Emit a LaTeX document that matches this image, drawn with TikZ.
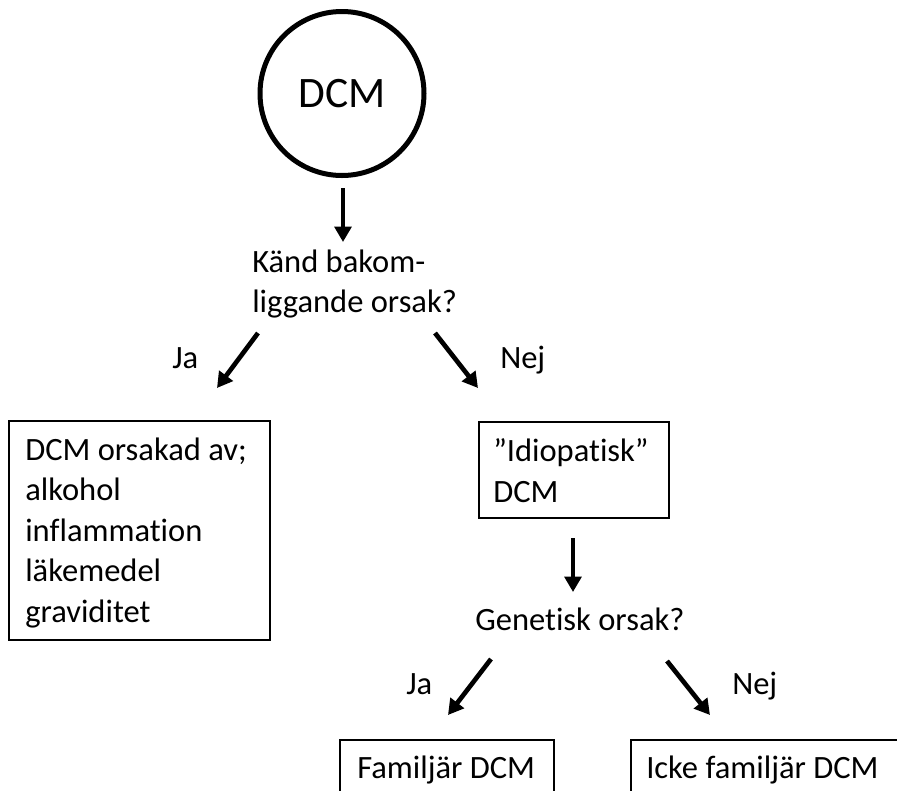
\documentclass[tikz,border=0pt]{standalone}
\usepackage{fontspec}
\setmainfont{Carlito}[Ligatures={NoCommon,NoContextual}]
\usetikzlibrary{arrows.meta}
\tikzset{
  txt/.style={font=\fontsize{24.4}{29}\selectfont, inner sep=0pt, anchor=base west},
  boxnode/.style={draw, line width=1.2pt, inner sep=0pt, anchor=north west},
  arr/.style={line width=3.5pt, -{Triangle[width=12.5pt,length=11.5pt]}},
}
\begin{document}
\begin{tikzpicture}[x=0.75pt,y=-0.75pt]
\useasboundingbox (0,0) rectangle (897,790);
\clip (0,0) rectangle (897,790);
% circle
\node[circle, draw, line width=3.75pt, minimum size=123pt, inner sep=0pt,
      font=\fontsize{32.6}{39}\selectfont] (dcm) at (342,93.5) {DCM};
% question 1
\node[txt] (q1a) at (252,272) {Känd bakom-};
\node[txt] (q1b) at (252,312) {liggande orsak?};
\node[txt] (ja1) at (172,368) {Ja};
\node[txt] (nej1) at (500,368) {Nej};
% left box
\node[boxnode, minimum width=195.75pt, minimum height=164.25pt] (lbox) at (8,420) {};
\node[txt] (l1) at (25,460) {DCM orsakad av;};
\node[txt] (l2) at (25,500.6) {alkohol};
\node[txt] (l3) at (25,541.2) {inflammation};
\node[txt] (l4) at (25,581.8) {läkemedel};
\node[txt] (l5) at (25,622.4) {graviditet};
% idiopatisk box
\node[boxnode, minimum width=142.5pt, minimum height=72pt] (ibox) at (478,421) {};
\node[txt] (i1) at (493,461) {”Idiopatisk”};
\node[txt] (i2) at (493,502) {DCM};
% question 2
\node[txt] (q2) at (475,630) {Genetisk orsak?};
\node[txt] (ja2) at (406,694) {Ja};
\node[txt] (nej2) at (732,694) {Nej};
% bottom boxes
\node[boxnode, minimum width=160.5pt, minimum height=75pt] (fbox) at (339,739) {};
\node[txt] (f1) at (357,778) {Familjär DCM};
\node[boxnode, minimum width=220pt, minimum height=75pt] (kbox) at (630,739) {};
\node[txt] (k1) at (646,778) {Icke familjär DCM};
% arrow coordinates
\coordinate (a1s) at (343,188); \coordinate (a1e) at (343,242);
\coordinate (a2s) at (258,333); \coordinate (a2e) at (217,388);
\coordinate (a3s) at (435,333); \coordinate (a3e) at (478,388);
\coordinate (a4s) at (573,538); \coordinate (a4e) at (573,592);
\coordinate (a5s) at (491,659); \coordinate (a5e) at (448,715);
\coordinate (a6s) at (667,661); \coordinate (a6e) at (710,715);
\draw[arr] (a1s) -- (a1e);
\draw[arr] (a2s) -- (a2e);
\draw[arr] (a3s) -- (a3e);
\draw[arr] (a4s) -- (a4e);
\draw[arr] (a5s) -- (a5e);
\draw[arr] (a6s) -- (a6e);
\end{tikzpicture}
\end{document}
